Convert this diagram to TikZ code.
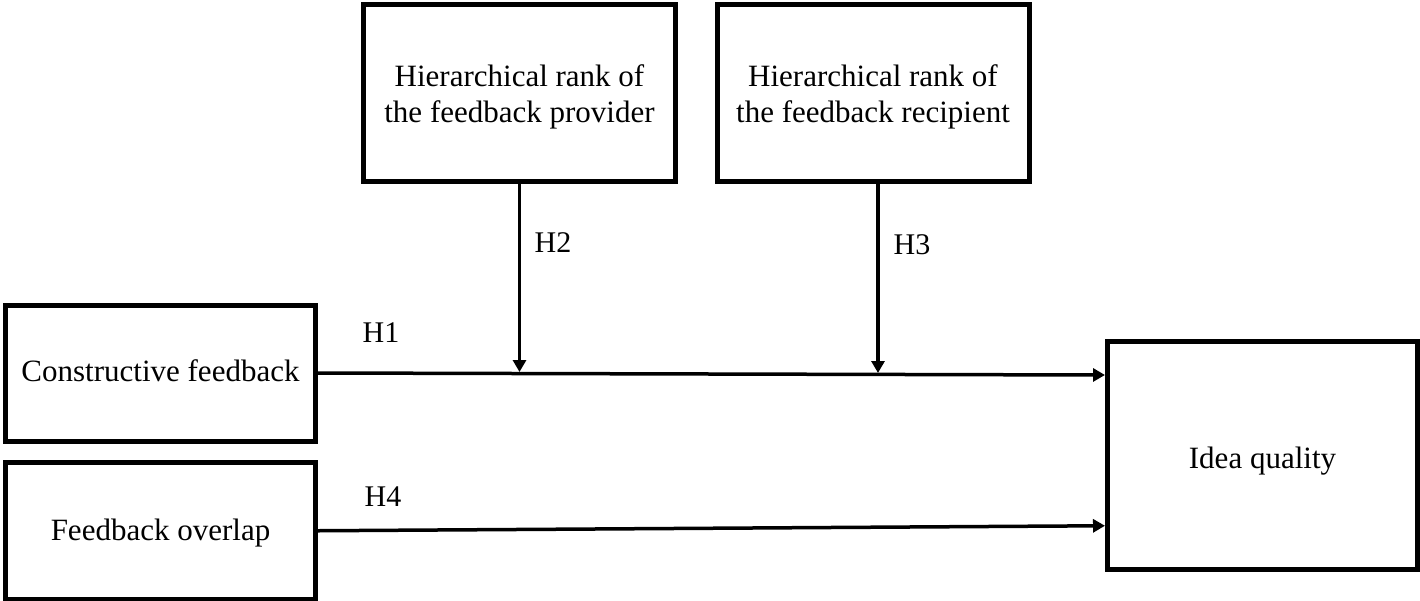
\documentclass[tikz,border=0pt]{standalone}
\usepackage{fontspec}
\setmainfont{Liberation Serif}
\usetikzlibrary{arrows.meta,calc}
\newcommand\lowertxt[2]{\raisebox{-#1}[\height][\depth]{\begin{tabular}{@{}c@{}}#2\end{tabular}}}
\begin{document}
\begin{tikzpicture}[x=1pt,y=-1pt,
  box/.style={draw=black,line width=5pt,rectangle,inner sep=0pt,align=center,
    font=\fontsize{31}{36}\selectfont},
  lab/.style={inner sep=0pt,font=\fontsize{30}{36}\selectfont},
  arr/.style={line width=3.5pt,-{Triangle[length=12pt,width=13pt]}}]
\useasboundingbox (0,0) rectangle (1420,600);
\node[box,minimum width=312pt,minimum height=176.5pt] (prov) at (519.5,92.75)
  {\lowertxt{5pt}{Hierarchical rank of\\the feedback provider}};
\node[box,minimum width=312pt,minimum height=176.5pt] (rec) at (873,92.75)
  {\lowertxt{5pt}{Hierarchical rank of\\the feedback recipient}};
\node[box,minimum width=310pt,minimum height=136pt] (cf) at (160.5,373)
  {\lowertxt{1pt}{Constructive feedback}};
\node[box,minimum width=310pt,minimum height=137.5pt] (fo) at (160.5,530.75)
  {\lowertxt{3pt}{Feedback overlap}};
\node[box,minimum width=310pt,minimum height=228pt] (iq) at (1262.5,455.5)
  {\lowertxt{6pt}{Idea quality}};
\node[lab] (h1) at (381,333) {H1};
\node[lab] (h2) at (553,243) {H2};
\node[lab] (h3) at (912,245) {H3};
\node[lab] (h4) at (383,497) {H4};
\coordinate (e1) at ($(cf.east -| iq.west)+(0,2)$);
\coordinate (e4) at ($(fo.east -| iq.west)+(0,-5)$);
\coordinate (t2) at ($(prov.south |- cf.east)+(0,-1)$);
\coordinate (s3) at ($(rec.south)+(5,0)$);
\coordinate (t3) at ($(s3 |- cf.east)+(0,0)$);
\draw[arr] (cf.east) -- (e1);
\draw[arr] (fo.east) -- (e4);
\draw[arr] (prov.south) -- (t2);
\draw[arr] (s3) -- (t3);
\end{tikzpicture}
\end{document}
